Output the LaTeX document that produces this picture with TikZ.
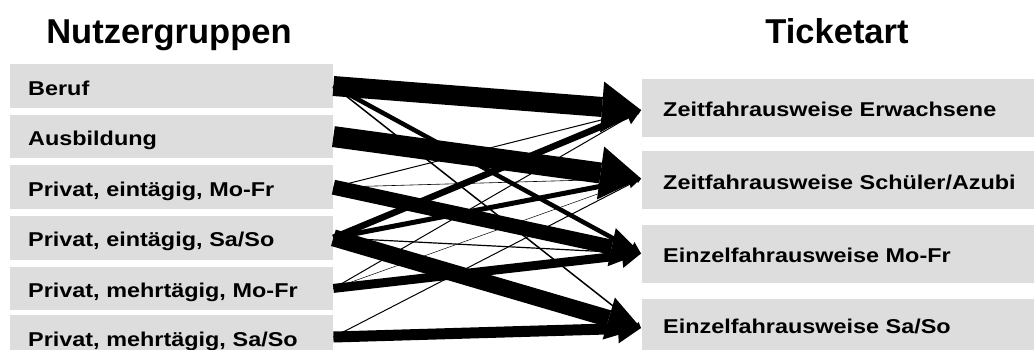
\documentclass[tikz,border=0pt]{standalone}
\usepackage{fontspec}
\setmainfont{Liberation Sans}
\newfontfamily\boxfont{Liberation Sans}[FakeStretch=1.17]
\usetikzlibrary{arrows.meta}
\definecolor{boxgray}{RGB}{221,221,221}
\tikzset{
  conn/.code={%
    \pgfmathsetmacro\cl{3+1.8*#1}%
    \pgfmathsetmacro\cwd{3+2.4*#1}%
    \edef\connopts{line width=#1pt, -{Triangle[length=\cl pt, width=\cwd pt, line width=0pt]}}%
    \expandafter\tikzset\expandafter{\connopts}},
  lbox/.style={fill=boxgray, anchor=west, minimum height=43.5pt, text width=287pt,
    inner xsep=18pt, inner ysep=0pt, align=left, text height=20pt, text depth=2pt,
    font=\boxfont\bfseries\fontsize{20}{24}\selectfont},
  rbox/.style={fill=boxgray, anchor=west, minimum height=58pt, text width=356pt,
    inner xsep=21pt, inner ysep=0pt, align=left, text height=20pt, text depth=2pt,
    font=\boxfont\bfseries\fontsize{20}{24}\selectfont},
  head/.style={anchor=base, font=\bfseries\fontsize{34.5}{40}\selectfont}
}
\begin{document}
\begin{tikzpicture}[x=1pt,y=-1pt]
\useasboundingbox (0,0) rectangle (1034,349);
\clip (0,0) rectangle (1034,349);
\node[head] (hn) at (169,43) {Nutzergruppen};
\node[head] (ht) at (837,43) {Ticketart};
% left boxes
\node[lbox] (beruf) at (10,86) {Beruf};
\node[lbox] (ausb) at (10,136.6) {Ausbildung};
\node[lbox] (pem) at (10,187.2) {Privat, eintägig, Mo-Fr};
\node[lbox] (pes) at (10,237.8) {Privat, eintägig, Sa/So};
\node[lbox] (pmm) at (10,288.4) {Privat, mehrtägig, Mo-Fr};
\node[lbox] (pms) at (10,337) {Privat, mehrtägig, Sa/So};
% right boxes
\node[rbox] (ze) at (642,107.5) {Zeitfahrausweise Erwachsene};
\node[rbox] (zs) at (642,180) {Zeitfahrausweise Schüler/Azubi};
\node[rbox] (emf) at (642,253.5) {Einzelfahrausweise Mo-Fr};
\node[rbox, minimum height=51pt] (ess) at (642,324.5) {Einzelfahrausweise Sa/So};
% arrow tips
\coordinate (tze) at ([xshift=-1pt,yshift=-2.5pt]ze.west);
\coordinate (tzs) at ([xshift=-1pt,yshift=1.5pt]zs.west);
\coordinate (temf) at ([xshift=-1pt]emf.west);
\coordinate (tess) at ([xshift=-1pt,yshift=-3.5pt]ess.west);
% connectors
\draw[conn=20] (beruf.east) -- (tze);
\draw[conn=4.5] (beruf.east) -- (temf);
\draw[conn=1.5] (beruf.east) -- (tess);
\draw[conn=21] (ausb.east) -- (tzs);
\draw[conn=1] (pem.east) -- (tze);
\draw[conn=0.6] (pem.east) -- (tzs);
\draw[conn=15] (pem.east) -- (temf);
\draw[conn=6.5] (pes.east) -- (tze);
\draw[conn=5] (pes.east) -- (tzs);
\draw[conn=1.2] (pes.east) -- (temf);
\draw[conn=17] (pes.east) -- (tess);
\draw[conn=1] (pmm.east) -- (tze);
\draw[conn=0.5] (pmm.east) -- (tzs);
\draw[conn=9] (pmm.east) -- (temf);
\draw[conn=1] (pms.east) -- (tzs);
\draw[conn=11] (pms.east) -- (tess);
\end{tikzpicture}
\end{document}
